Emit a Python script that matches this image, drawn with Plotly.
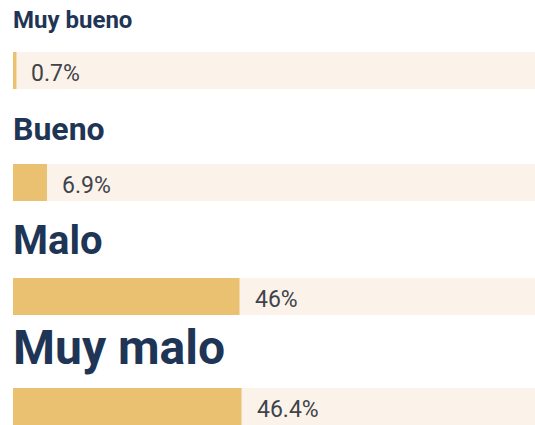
import plotly.graph_objects as go

categories = ["Muy bueno", "Bueno", "Malo", "Muy malo"]
values = [0.7, 6.9, 46, 46.4]
value_labels = ["0.7%", "6.9%", "46%", "46.4%"]

# style / layout
W, H = 535, 425
label_sizes = [24, 32, 40, 48]
bar_tops = [52, 164, 278, 388]
bar_h = 37
x_max = 106
left = 13
bar_color = "#EAC071"
track_color = "#FBF3EA"
label_color = "#1F3555"
value_color = "#3F434A"

centers = [t + bar_h / 2 for t in bar_tops]

fig = go.Figure()
fig.add_trace(go.Bar(
    x=[x_max] * len(values), y=centers, orientation="h", width=bar_h,
    marker=dict(color=track_color, line=dict(width=0)), hoverinfo="skip",
))
fig.add_trace(go.Bar(
    x=values, y=centers, orientation="h", width=bar_h,
    marker=dict(color=bar_color, line=dict(width=0)),
    hovertext=categories, hoverinfo="text+x",
))

annotations = []
for cat, v, lab, c, t, s in zip(categories, values, value_labels, centers, bar_tops, label_sizes):
    annotations.append(dict(
        x=v, y=c, xref="x", yref="y", text=lab, showarrow=False,
        xanchor="left", yanchor="middle", xshift=13, yshift=-3,
        font=dict(family="Roboto", size=23, color=value_color),
    ))
    baseline = t - 23
    annotations.append(dict(
        x=0, y=baseline - 0.36 * s, xref="x", yref="y", text=f"<b>{cat}</b>",
        showarrow=False, xanchor="left", yanchor="middle", xshift=-2,
        font=dict(family="Roboto", size=s, color=label_color),
    ))

fig.update_layout(
    width=W, height=H, margin=dict(l=0, r=0, t=0, b=0),
    paper_bgcolor="white", plot_bgcolor="white",
    barmode="overlay", showlegend=False, annotations=annotations,
    xaxis=dict(range=[0, x_max], domain=[left / W, 1], visible=False, fixedrange=True),
    yaxis=dict(range=[H, 0], visible=False, fixedrange=True),
)
fig.write_html(
    "out.html",
    config={"displayModeBar": False},
    post_script="document.body.style.margin='0';document.body.style.overflow='hidden';",
)
